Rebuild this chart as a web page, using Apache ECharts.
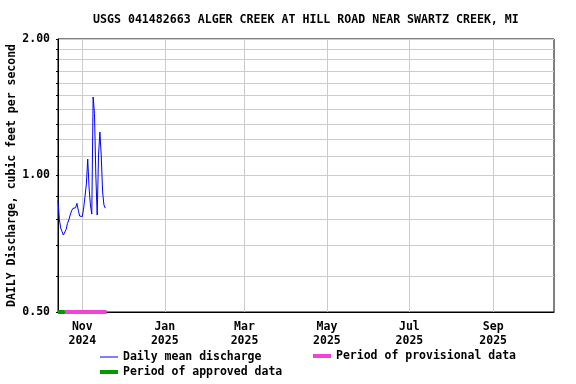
<!DOCTYPE html>
<html>
<head>
<meta charset="utf-8">
<script src="https://cdn.jsdelivr.net/npm/echarts@6/dist/echarts.min.js"></script>
<style>html,body{margin:0;padding:0;background:#fff}#c{width:576px;height:384px}</style>
</head>
<body>
<div id="c"></div>
<script>
var titleText = 'USGS 041482663 ALGER CREEK AT HILL ROAD NEAR SWARTZ CREEK, MI';
var startDate = '2024-10-14';
var dischargeValues = [0.88, 0.80, 0.766, 0.752, 0.739, 0.733, 0.76, 0.784, 0.798, 0.818,
  0.835, 0.846, 0.839, 0.849, 0.868, 0.839, 0.814, 0.807, 0.812, 0.848,
  0.90, 0.958, 1.087, 0.938, 0.861, 0.822, 1.49, 1.37, 1.00, 0.818,
  1.11, 1.247, 1.104, 0.92, 0.861, 0.847];
var approvedPeriod = ['2024-10-14', '2024-10-19'];
var provisionalPeriod = ['2024-10-19', '2024-11-19'];
var xMin = '2024-10-14', xMax = '2025-10-16';
var xTickDates = ['2024-11-01', '2025-01-01', '2025-03-01', '2025-05-01', '2025-07-01', '2025-09-01'];
var monthNames = ['Jan','Feb','Mar','Apr','May','Jun','Jul','Aug','Sep','Oct','Nov','Dec'];
var yGridValues = [0.5, 0.6, 0.7, 0.8, 0.9, 1.0, 1.1, 1.2, 1.3, 1.4, 1.5, 1.6, 1.7, 1.8, 1.9, 2.0];
var yLabelValues = [0.5, 1.0, 2.0];

var P = echarts.time.parse;
var DAY = 86400000;
var t0 = P(startDate).getTime();
var dischargeData = dischargeValues.map(function (v, i) { return [t0 + i * DAY, v]; });
var approvedData = approvedPeriod.map(function (d) { return [P(d).getTime(), 0.5]; });
var provisionalData = provisionalPeriod.map(function (d) { return [P(d).getTime(), 0.5]; });
var xTicks = xTickDates.map(function (d) { return P(d).getTime(); });

var FONT = 'DejaVu Sans Mono';
var txt = { fontFamily: FONT, fontWeight: 'bold', fontSize: 11.5, color: '#000' };

var chart = echarts.init(document.getElementById('c'), null, { renderer: 'canvas' });
chart.setOption({
  animation: false,
  backgroundColor: '#fff',
  title: {
    text: titleText, left: 93, top: 14, padding: 0,
    textStyle: Object.assign({}, txt, { fontSize: 11.6 })
  },
  grid: { left: 58, right: 22, top: 39, bottom: 72, show: true, borderColor: '#000', borderWidth: 1,
    containLabel: false, outerBoundsMode: 'none' },
  xAxis: {
    type: 'value', min: P(xMin).getTime(), max: P(xMax).getTime(),
    axisLine: { lineStyle: { color: '#000', width: 1 } },
    axisTick: { show: false, customValues: xTicks },
    splitLine: { show: true, lineStyle: { color: '#cccccc', width: 1 } },
    axisLabel: Object.assign({}, txt, {
      customValues: xTicks, margin: 8, lineHeight: 14, hideOverlap: false,
      formatter: function (v) { var d = new Date(v); return monthNames[d.getMonth()] + '\n' + d.getFullYear(); }
    })
  },
  yAxis: {
    type: 'log', logBase: 2, min: 0.5, max: 2,
    name: 'DAILY Discharge, cubic feet per second', nameLocation: 'middle', nameGap: 40,
    nameMoveOverlap: false,
    nameTextStyle: txt,
    axisLine: { show: true, lineStyle: { color: '#000', width: 1 } },
    axisTick: { show: true, length: 2, customValues: yGridValues, lineStyle: { color: '#000' } },
    splitLine: { show: true, lineStyle: { color: '#cccccc', width: 1 } },
    axisLabel: Object.assign({}, txt, {
      customValues: yLabelValues, margin: 8,
      formatter: function (v) { return Number(v).toFixed(2); }
    })
  },
  legend: [
    { data: [{ name: 'Daily mean discharge', icon: 'rect' }], left: 100, top: 351, itemWidth: 18, itemHeight: 1, selectedMode: false, textStyle: txt, padding: 0 },
    { data: [{ name: 'Period of provisional data', icon: 'rect' }], left: 313, top: 350, itemWidth: 18, itemHeight: 4, selectedMode: false, textStyle: txt, padding: 0 },
    { data: [{ name: 'Period of approved data', icon: 'rect' }], left: 100, top: 366, itemWidth: 18, itemHeight: 4, selectedMode: false, textStyle: txt, padding: 0 }
  ],
  series: [
    { name: 'Daily mean discharge', type: 'line', data: dischargeData, showSymbol: false, symbol: 'none',
      lineStyle: { color: '#0000ff', width: 1 }, itemStyle: { color: '#0000ff' } },
    { name: 'Period of provisional data', type: 'line', data: provisionalData, showSymbol: false, symbol: 'none', clip: false,
      lineStyle: { color: '#f044d8', width: 4, cap: 'butt' }, itemStyle: { color: '#f044d8' } },
    { name: 'Period of approved data', type: 'line', data: approvedData, showSymbol: false, symbol: 'none', clip: false,
      lineStyle: { color: '#009900', width: 4, cap: 'butt' }, itemStyle: { color: '#009900' } }
  ]
});
</script>
</body>
</html>
